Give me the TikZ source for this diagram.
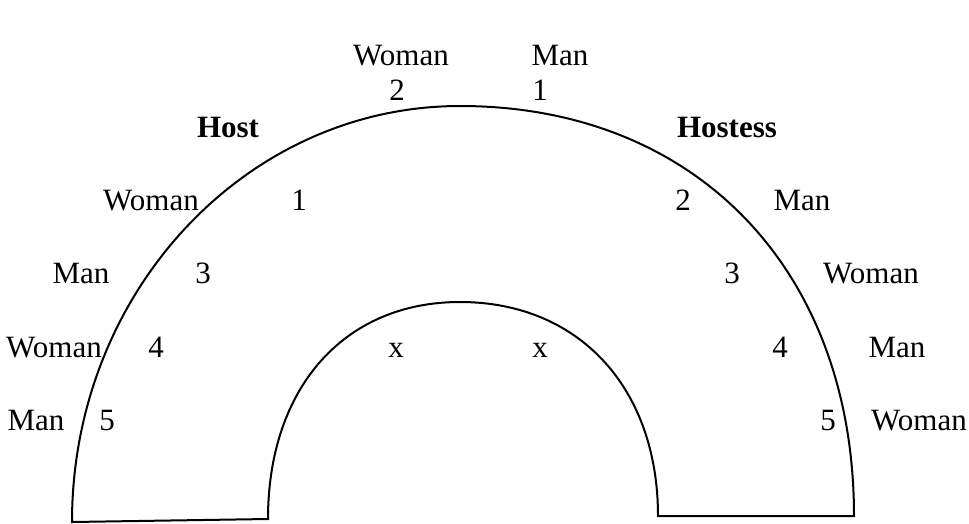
\documentclass[tikz,border=0pt]{standalone}
\usepackage{fontspec}
\setmainfont{Liberation Serif}
\begin{document}
\begin{tikzpicture}[x=1pt,y=-1pt,
  lbl/.style={anchor=base,inner sep=0pt,font=\fontsize{31}{36}\selectfont},
  blbl/.style={lbl,font=\fontsize{31}{36}\selectfont\bfseries},
  table/.style={line width=2pt,line join=miter}]
\useasboundingbox (0,0) rectangle (969,523);
% table outline
\coordinate (obl) at (72,522);
\coordinate (otop) at (460,106);
\coordinate (obr) at (854,516);
\coordinate (ibl) at (268,519);
\coordinate (itop) at (460,302);
\coordinate (ibr) at (658,516);
\draw[table] (obl) .. controls (72,292) and (246,106) .. (otop)
  .. controls (696,106) and (854,270) .. (obr)
  -- (ibr) .. controls (658,388) and (579,302) .. (itop)
  .. controls (344,302) and (268,388) .. (ibl) -- cycle;
% top labels
\node[lbl] (tw) at (401,65) {Woman};
\node[lbl] (tm) at (560,65) {Man};
\node[lbl] (t2) at (397,100) {2};
\node[lbl] (t1) at (540,100) {1};
\node[blbl] (host) at (228,137) {Host};
\node[blbl] (hostess) at (727,137) {Hostess};
% left side
\node[lbl] (lw1) at (151,210) {Woman};
\node[lbl] (l1) at (299,210) {1};
\node[lbl] (lm2) at (81,283) {Man};
\node[lbl] (l3) at (203,283) {3};
\node[lbl] (lw3) at (54,357) {Woman};
\node[lbl] (l4) at (156,357) {4};
\node[lbl] (lm4) at (36,430) {Man};
\node[lbl] (l5) at (107,430) {5};
% right side
\node[lbl] (r2) at (683,210) {2};
\node[lbl] (rm1) at (802,210) {Man};
\node[lbl] (r3) at (732,283) {3};
\node[lbl] (rw2) at (871,283) {Woman};
\node[lbl] (r4) at (780,357) {4};
\node[lbl] (rm3) at (897,357) {Man};
\node[lbl] (r5) at (828,430) {5};
\node[lbl] (rw4) at (919,430) {Woman};
% inner
\node[lbl] (x1) at (396,357) {x};
\node[lbl] (x2) at (540,357) {x};
\end{tikzpicture}
\end{document}
